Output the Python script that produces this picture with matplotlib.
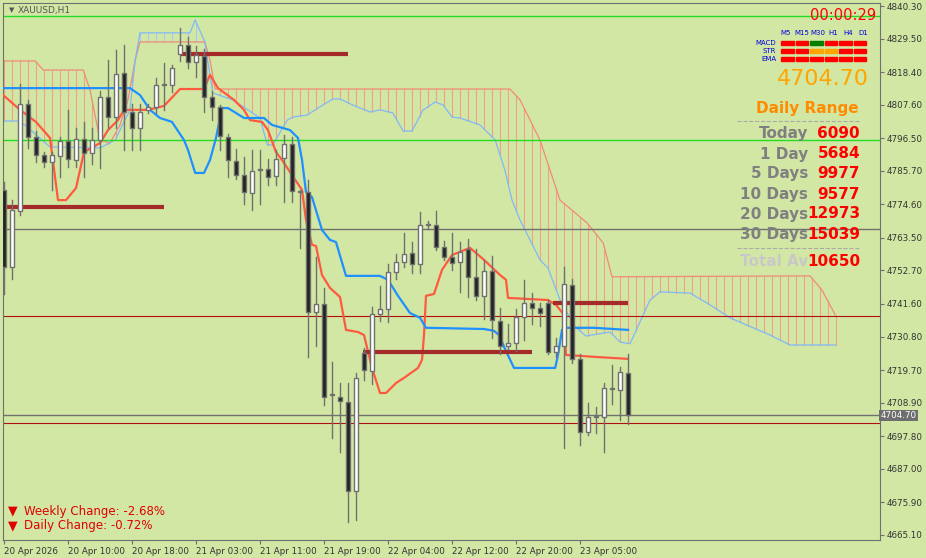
import numpy as np
import matplotlib
matplotlib.use('Agg')
import matplotlib.pyplot as plt
from matplotlib.patches import Rectangle

# ---- candles (XAUUSD H1), bar index 0..78
opens = [4779.4, 4754.0, 4772.5, 4807.8, 4797.0, 4791.0, 4788.6, 4790.6, 4795.7, 4789.3,
         4796.3, 4791.6, 4796.0, 4810.2, 4803.5, 4818.1, 4805.2, 4800.0, 4806.0, 4806.9,
         4814.2, 4814.1, 4824.4, 4827.4, 4821.8, 4823.7, 4810.2, 4806.9, 4796.9, 4789.0,
         4784.3, 4778.4, 4786.0, 4786.3, 4784.0, 4789.9, 4794.6, 4779.0, 4778.7, 4739.0,
         4741.6, 4711.5, 4710.8, 4709.2, 4679.7, 4725.4, 4719.4, 4738.3, 4739.9, 4752.2,
         4755.5, 4758.5, 4754.8, 4767.8, 4767.8, 4760.5, 4757.2, 4755.5, 4759.8, 4750.6,
         4744.3, 4752.5, 4736.0, 4727.7, 4728.7, 4737.3, 4741.9, 4740.3, 4741.9, 4725.7,
         4727.7, 4747.9, 4723.4, 4699.2, 4704.2, 4704.2, 4713.5, 4713.2, 4718.7]
highs = [4782.0, 4776.0, 4814.5, 4809.0, 4799.0, 4792.0, 4792.0, 4797.0, 4805.9, 4800.0,
         4802.0, 4800.0, 4812.0, 4822.4, 4825.7, 4827.4, 4808.0, 4808.0, 4808.0, 4816.5,
         4821.4, 4820.8, 4833.0, 4830.0, 4827.0, 4826.0, 4812.0, 4807.5, 4797.9, 4793.0,
         4790.3, 4792.6, 4792.6, 4789.6, 4792.6, 4797.6, 4796.9, 4779.5, 4782.7, 4757.2,
         4746.9, 4722.4, 4715.4, 4715.4, 4718.7, 4727.0, 4740.6, 4747.6, 4755.0, 4758.0,
         4765.1, 4762.0, 4772.1, 4769.0, 4772.4, 4762.5, 4765.0, 4762.0, 4763.0, 4759.8,
         4756.0, 4757.5, 4740.3, 4735.0, 4740.0, 4749.6, 4745.3, 4742.0, 4743.0, 4730.4,
         4753.9, 4749.9, 4725.0, 4708.8, 4707.5, 4715.4, 4721.4, 4720.7, 4725.0]
lows = [4745.0, 4750.0, 4771.0, 4793.3, 4788.6, 4787.0, 4779.4, 4783.7, 4787.0, 4787.0,
        4783.7, 4788.0, 4786.6, 4800.0, 4799.9, 4792.6, 4792.6, 4792.6, 4805.0, 4805.0,
        4805.9, 4811.8, 4822.0, 4819.8, 4816.8, 4805.2, 4802.6, 4792.6, 4783.7, 4783.0,
        4774.7, 4772.7, 4774.7, 4781.0, 4781.0, 4775.4, 4775.4, 4760.2, 4724.0, 4727.7,
        4708.2, 4697.2, 4692.6, 4669.4, 4670.0, 4716.4, 4715.0, 4736.0, 4735.6, 4750.0,
        4754.0, 4751.9, 4751.9, 4766.5, 4759.5, 4756.0, 4753.0, 4745.6, 4744.0, 4743.0,
        4736.6, 4730.4, 4725.0, 4726.7, 4726.0, 4729.7, 4735.0, 4734.3, 4725.0, 4724.0,
        4694.0, 4722.0, 4695.0, 4698.2, 4699.0, 4692.6, 4708.5, 4703.2, 4701.9]
closes = [4754.0, 4772.8, 4807.8, 4797.0, 4791.0, 4788.6, 4791.0, 4795.7, 4789.6, 4796.3,
          4791.6, 4796.0, 4810.2, 4803.5, 4817.8, 4805.2, 4800.0, 4805.2, 4806.9, 4814.1,
          4814.2, 4819.8, 4827.4, 4821.8, 4824.1, 4810.2, 4806.9, 4797.2, 4789.3, 4784.3,
          4778.7, 4785.7, 4786.0, 4783.7, 4789.6, 4794.6, 4779.0, 4778.7, 4739.0, 4741.6,
          4710.8, 4711.5, 4709.5, 4679.7, 4717.1, 4719.7, 4738.3, 4740.0, 4752.2, 4755.5,
          4758.2, 4754.8, 4767.8, 4767.8, 4760.5, 4757.2, 4755.2, 4758.8, 4750.6, 4744.3,
          4752.5, 4736.3, 4727.7, 4728.7, 4737.3, 4741.9, 4740.3, 4738.6, 4725.7, 4727.7,
          4748.2, 4723.4, 4699.2, 4704.2, 4704.2, 4713.8, 4713.5, 4719.1, 4704.7]

# ---- Ichimoku lines (bar, price) vertices
tenkan_x = [-0.1, 2, 4, 5.75, 6.75, 7.75, 9, 10, 12, 13, 14.25, 15, 18, 20, 22, 25, 25.75, 26.75,
            28.75, 30, 30.75, 32.25, 33, 34, 34.75, 36.25, 37.25, 37.75, 38.5, 39, 39.75, 40.75,
            42, 42.75, 44.25, 45, 46, 47, 47.75, 49, 50, 51.75, 52.25, 52.5, 52.75, 53.75, 54.75,
            56, 58.25, 60, 62, 62.75, 63, 68, 69, 70, 70.25, 74.25, 78]
tenkan_y = [4810.8, 4805.9, 4801.9, 4796.6, 4776.0, 4776.0, 4780.0, 4791.9, 4794.9, 4799.2, 4802.5,
            4805.9, 4805.9, 4807.2, 4812.8, 4812.8, 4817.5, 4813.1, 4809.2, 4805.9, 4802.5, 4801.9,
            4799.2, 4791.9, 4789.3, 4783.3, 4779.4, 4769.4, 4761.2, 4760.8, 4751.2, 4746.9, 4743.9,
            4733.0, 4732.3, 4731.3, 4720.4, 4712.1, 4712.1, 4715.4, 4717.1, 4720.4, 4723.1, 4731.3,
            4744.3, 4744.9, 4752.9, 4757.8, 4760.2, 4756.2, 4751.2, 4749.6, 4743.6, 4742.9, 4741.3,
            4738.0, 4724.7, 4724.0, 4723.4]
kijun_x = [-0.1, 15.75, 17, 18.25, 19.5, 21, 22.5, 23, 23.9, 25, 25.75, 26.5, 27.25, 28, 30, 32.5,
           33.5, 35.75, 36.75, 37.25, 37.75, 38.5, 39.75, 40.75, 41.5, 42.75, 47, 48, 49.25, 50.75,
           52, 52.75, 60, 61.25, 62, 62.5, 63.75, 68.9, 69.25, 69.75, 70.25, 73.75, 78]
kijun_y = [4813.1, 4813.1, 4810.8, 4805.9, 4803.2, 4801.9, 4795.9, 4792.6, 4785.0, 4785.0, 4789.3,
           4796.6, 4806.5, 4806.5, 4803.2, 4803.2, 4800.9, 4799.2, 4796.6, 4789.3, 4778.7, 4777.0,
           4766.1, 4762.8, 4762.1, 4750.9, 4750.9, 4749.6, 4744.3, 4738.6, 4737.0, 4733.7, 4733.3,
           4732.7, 4731.0, 4727.4, 4720.4, 4720.4, 4724.7, 4733.0, 4733.7, 4733.7, 4733.0]
spanA_x = [-0.1, 3.9, 4.9, 9.9, 10.75, 12, 13.25, 14.5, 15.5, 16.4, 17, 25.1, 25.75, 26.4, 63.25,
           64.5, 67, 69.5, 72.9, 74.9, 76, 100.75, 102.25, 103.9]
spanA_y = [4822.1, 4822.1, 4819.1, 4819.1, 4812.5, 4795.9, 4794.9, 4800.9, 4809.2, 4822.4, 4828.4,
           4828.4, 4822.4, 4812.8, 4812.8, 4809.2, 4795.9, 4776.0, 4768.4, 4761.8, 4750.6, 4750.9,
           4746.2, 4738.0]
spanB_x = [-0.1, 1.75, 2.6, 5.75, 12, 13.9, 15.1, 15.75, 16.4, 17, 23.25, 23.9, 25.1, 26.1, 28.6,
           32, 32.9, 33.6, 35.4, 36.1, 37.9, 39.5, 41.1, 42, 43.6, 45.75, 47, 48.6, 49.9, 51, 52.4,
           53.9, 54.9, 56, 57, 59.5, 61.4, 62.6, 63.5, 64.5, 67, 68, 69.5, 71.4, 72.75, 75.75, 77,
           78.25, 80.75, 82, 85.75, 88.25, 90.75, 95.75, 98.25, 103.9]
spanB_y = [4802.2, 4802.2, 4800.9, 4793.6, 4793.3, 4795.9, 4802.5, 4805.9, 4822.4, 4831.4, 4831.4,
           4835.7, 4828.4, 4811.5, 4809.2, 4803.2, 4794.3, 4794.3, 4802.5, 4803.5, 4804.2, 4806.9,
           4809.5, 4809.5, 4807.5, 4805.2, 4805.9, 4804.9, 4798.9, 4798.9, 4805.9, 4808.5, 4807.5,
           4803.5, 4803.2, 4800.9, 4795.9, 4786.0, 4776.0, 4769.4, 4756.2, 4753.5, 4742.9, 4734.0,
           4731.0, 4732.3, 4729.0, 4728.4, 4742.9, 4745.6, 4745.2, 4741.3, 4737.0, 4731.3, 4728.0,
           4728.0]

# support / resistance segments: (start bar, end bar, price)
levels = [(-0.1, 20.0, 4773.7), (22.0, 43.0, 4824.4), (44.9, 66.0, 4725.7), (68.6, 78.0, 4742.0)]
green_lines = [4837.0, 4796.0]
gray_lines = [4766.5, 4704.8]
red_thin_lines = [4737.6, 4702.2]
bid = 4704.70

price_ticks = [4840.30, 4829.50, 4818.40, 4807.60, 4796.50, 4785.70, 4774.60, 4763.50, 4752.70,
               4741.60, 4730.80, 4719.70, 4708.90, 4697.80, 4687.00, 4675.90, 4665.10]
time_ticks = [0, 8, 16, 24, 32, 40, 48, 56, 64, 72]
time_labels = ['20 Apr 2026', '20 Apr 10:00', '20 Apr 18:00', '21 Apr 03:00', '21 Apr 11:00',
               '21 Apr 19:00', '22 Apr 04:00', '22 Apr 12:00', '22 Apr 20:00', '23 Apr 05:00']

range_labels = ['Today', '1 Day', '5 Days', '10 Days', '20 Days', '30 Days']
range_values = ['6090', '5684', '9977', '9577', '12973', '15039']
tf_names = ['M5', 'M15', 'M30', 'H1', 'H4', 'D1']
signal_rows = ['MACD', 'STR', 'EMA']
signal_colors = [['#ff0000', '#ff0000', '#008000', '#ff0000', '#ff0000', '#ff0000'],
                 ['#ff0000', '#ff0000', '#ffa500', '#ffa500', '#ff0000', '#ff0000'],
                 ['#ff0000'] * 6]

BG = '#d2e7a4'
W, H = 926, 558
fig = plt.figure(figsize=(W / 100, H / 100), dpi=100)
fig.patch.set_facecolor(BG)
ax = fig.add_axes([3 / W, 18 / H, 877 / W, 537 / H])
ax.set_facecolor(BG)
ax.set_xlim(-0.125, 109.5)
ax.set_ylim(4663.4, 4841.3)

# cloud hatch
grid = np.arange(0, 105)
a = np.interp(grid, spanA_x, spanA_y)
b = np.interp(grid, spanB_x, spanB_y)
for g, va, vb in zip(grid, a, b):
    ax.plot([g, g], [va, vb], color='#f0a090' if va >= vb else '#a8c8f0', lw=0.8, zorder=1)
ax.plot(spanA_x, spanA_y, color='#f08a78', lw=0.9, zorder=2)
ax.plot(spanB_x, spanB_y, color='#80b8f8', lw=0.9, zorder=2)

for p in green_lines:
    ax.axhline(p, color='#22dd22', lw=1, zorder=2)
for p in gray_lines:
    ax.axhline(p, color='#707070', lw=1, zorder=2)
for p in red_thin_lines:
    ax.axhline(p, color='#b01010', lw=0.8, zorder=2)

ax.plot(tenkan_x, tenkan_y, color='#ff5a40', lw=1.6, zorder=3)
ax.plot(kijun_x, kijun_y, color='#1e90ff', lw=1.6, zorder=3)
for x0, x1, p in levels:
    ax.plot([x0, x1], [p, p], color='#a52a2a', lw=3, zorder=3, solid_capstyle='butt')

for i, (o, h, l, c) in enumerate(zip(opens, highs, lows, closes)):
    ax.plot([i, i], [l, h], color='#707070', lw=1, zorder=4)
    lo, hi = min(o, c), max(o, c)
    ax.add_patch(Rectangle((i - 0.3, lo), 0.6, max(hi - lo, 0.4),
                           facecolor='white' if c >= o else '#222222',
                           edgecolor='#707070', lw=1, zorder=5))

# axes styling
for s in ax.spines.values():
    s.set_color('#707070')
ax.yaxis.tick_right()
ax.set_yticks(price_ticks)
ax.set_yticklabels([f'{v:.2f}' for v in price_ticks], fontsize=6.3, color='#333333')
ax.set_xticks(time_ticks)
ax.set_xticklabels(time_labels, fontsize=6.3, color='#333333', ha='left')
ax.tick_params(length=3, color='#707070', pad=2)
ax.text(109.6, bid, f'{bid:.2f}', fontsize=6.3, color='white', va='center', ha='left',
        bbox=dict(boxstyle='square,pad=0.15', fc='#6e6e6e', ec='none'), zorder=6, clip_on=False)

# overlay texts (pixel positions in figure)
def ft(x, y, s, **kw):
    fig.text(x / W, 1 - y / H, s, **kw)

ft(9, 10, '\u25bc', fontsize=5, color='#555555', va='center')
ft(18, 10, 'XAUUSD,H1', fontsize=6.5, color='#555555', va='center')
ft(8, 511, '\u25bc', fontsize=9, color='#e00000', va='center')
ft(24, 511, 'Weekly Change: -2.68%', fontsize=8.5, color='#e00000', va='center')
ft(8, 526, '\u25bc', fontsize=9, color='#e00000', va='center')
ft(24, 526, 'Daily Change: -0.72%', fontsize=8.5, color='#e00000', va='center')

ft(876, 15, '00:00:29', fontsize=10.5, color='#ff0000', va='center', ha='right')
tf_x = [786, 802, 818, 833, 848, 863]
for x, n in zip(tf_x, tf_names):
    ft(x, 33, n, fontsize=5, color='#0000dd', va='center', ha='center')
for r, (name, cols) in enumerate(zip(signal_rows, signal_colors)):
    y = 43 + 8 * r
    ft(776, y, name, fontsize=5, color='#0000dd', va='center', ha='right')
    for k, col in enumerate(cols):
        fig.patches.append(Rectangle(((781 + 14.5 * k) / W, 1 - (y + 2) / H), 12.5 / W, 4 / H,
                                     transform=fig.transFigure, color=col))
ft(869, 79, '4704.70', fontsize=16, color='#ffa500', va='center', ha='right')
ft(859, 109, 'Daily Range', fontsize=11, color='#ff8c00', va='center', ha='right',
   fontweight='bold')
fig.lines.append(plt.Line2D([737 / W, 860 / W], [1 - 121 / H] * 2, transform=fig.transFigure,
                            color='#aaaaaa', lw=0.8, ls='--'))
for r, (lab, val) in enumerate(zip(range_labels, range_values)):
    y = 134 + 20 * r
    ft(808, y, lab, fontsize=11, color='#808080', va='center', ha='right', fontweight='bold')
    ft(860, y, val, fontsize=11, color='#ff0000', va='center', ha='right', fontweight='bold')
fig.lines.append(plt.Line2D([737 / W, 860 / W], [1 - 248 / H] * 2, transform=fig.transFigure,
                            color='#aaaaaa', lw=0.8, ls='--'))
ft(808, 261, 'Total Av', fontsize=11, color='#c8c8c8', va='center', ha='right', fontweight='bold')
ft(860, 261, '10650', fontsize=11, color='#ff0000', va='center', ha='right', fontweight='bold')

fig.savefig('out.png', dpi=100, facecolor=BG)
